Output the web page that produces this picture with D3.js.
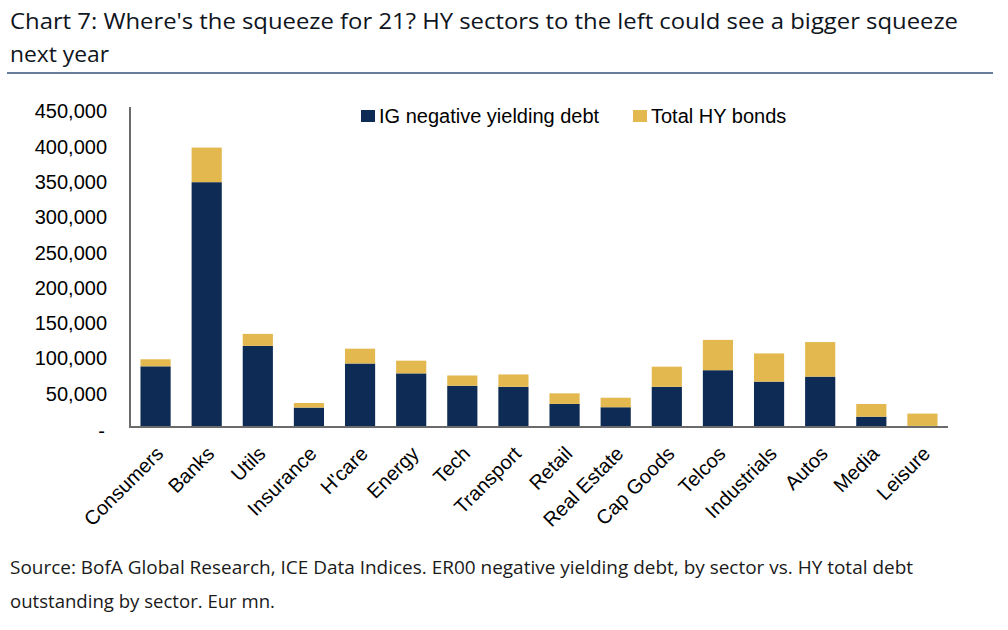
<!DOCTYPE html>
<html>
<head>
<meta charset="utf-8">
<script src="https://cdn.jsdelivr.net/npm/d3@7"></script>
<style>
  html, body { margin: 0; padding: 0; background: #fff; }
  svg { display: block; }
</style>
</head>
<body>
<svg id="chart" width="1008" height="630"></svg>
<script>
const titleLines = [
  "Chart 7: Where's the squeeze for 21? HY sectors to the left could see a bigger squeeze",
  "next year"
];
const sourceLines = [
  "Source: BofA Global Research, ICE Data Indices. ER00 negative yielding debt, by sector vs. HY total debt",
  "outstanding by sector. Eur mn."
];
const categories = ["Consumers", "Banks", "Utils", "Insurance", "H'care", "Energy", "Tech", "Transport",
  "Retail", "Real Estate", "Cap Goods", "Telcos", "Industrials", "Autos", "Media", "Leisure"];
const igNegative = [86000, 347000, 115000, 27500, 90000, 76000, 58500, 57000,
  32700, 28000, 57000, 80500, 64300, 71400, 14600, 1500];
const hyTotal = [10000, 49000, 17000, 6500, 21000, 18000, 14500, 17500,
  15000, 13500, 28500, 43000, 40000, 49000, 18000, 17500];
const seriesNames = ["IG negative yielding debt", "Total HY bonds"];
const seriesColors = ["#0d2b54", "#e3b94f"];
const yTicks = [0, 50000, 100000, 150000, 200000, 250000, 300000, 350000, 400000, 450000];

const svg = d3.select("#chart");

// Title
svg.selectAll("text.title").data(titleLines).enter().append("text")
  .attr("class", "title")
  .attr("x", 10).attr("y", (d, i) => 29 + i * 33)
  .attr("font-family", "'Open Sans', sans-serif")
  .attr("font-size", 22).attr("font-weight", 500)
  .attr("fill", "#0e1420")
  .attr("textLength", (d, i) => i === 0 ? 948 : 99)
  .attr("lengthAdjust", "spacingAndGlyphs")
  .text(d => d);

svg.append("line").attr("x1", 7).attr("x2", 993).attr("y1", 73).attr("y2", 73)
  .attr("stroke", "#687e9a").attr("stroke-width", 2);

// Scales
const x = d3.scaleBand().domain(categories).range([130, 948]).paddingInner(0.41).paddingOuter(0.205);
const y = d3.scaleLinear().domain([0, 450000]).range([427, 109.5]);

const data = categories.map((c, i) => ({ cat: c, ig: igNegative[i], hy: hyTotal[i] }));
const stack = d3.stack().keys(["ig", "hy"])(data);

const g = svg.append("g");
g.selectAll("g.series").data(stack).enter().append("g")
  .attr("fill", (d, i) => seriesColors[i])
  .selectAll("rect").data(d => d).enter().append("rect")
  .attr("x", d => x(d.data.cat))
  .attr("width", x.bandwidth())
  .attr("y", d => y(d[1]))
  .attr("height", d => y(d[0]) - y(d[1]));

// Y axis
const yAxis = d3.axisLeft(y).tickValues(yTicks).tickSize(0).tickPadding(0)
  .tickFormat(d => d === 0 ? "-" : d3.format(",")(d));
const yg = svg.append("g").attr("transform", "translate(107,0)").call(yAxis);
yg.select(".domain").remove();
yg.selectAll("text")
  .attr("font-family", "'Liberation Sans', Arial, sans-serif")
  .attr("font-size", 20).attr("fill", "#000")
  .attr("dy", "0.42em");
yg.selectAll(".tick").filter(d => d === 0).select("text").attr("x", -2).attr("dy", "0.5em");

svg.append("line").attr("x1", 130).attr("x2", 130).attr("y1", 107).attr("y2", 428)
  .attr("stroke", "#6b6b6b").attr("stroke-width", 2);

// X axis
const xAxis = d3.axisBottom(x).tickSize(0).tickPadding(0);
const xg = svg.append("g").attr("transform", "translate(0,427)").call(xAxis);
xg.select(".domain").remove();
xg.selectAll("text")
  .attr("font-family", "'Liberation Sans', Arial, sans-serif")
  .attr("font-size", 20).attr("fill", "#000")
  .attr("text-anchor", "end")
  .attr("x", 0).attr("y", 0).attr("dy", 0)
  .attr("transform", "translate(9,28) rotate(-45)");

svg.append("line").attr("x1", 129).attr("x2", 948).attr("y1", 427).attr("y2", 427)
  .attr("stroke", "#6b6b6b").attr("stroke-width", 2);

// Legend
const legendX = [361, 633];
const leg = svg.selectAll("g.legend").data(seriesNames).enter().append("g")
  .attr("transform", (d, i) => `translate(${legendX[i]},0)`);
leg.append("rect").attr("x", 0).attr("y", 110).attr("width", 14).attr("height", 12)
  .attr("fill", (d, i) => seriesColors[i]);
leg.append("text").attr("x", 18).attr("y", 122.5)
  .attr("font-family", "'Liberation Sans', Arial, sans-serif")
  .attr("font-size", 20).attr("fill", "#000")
  .text(d => d);

// Source
svg.selectAll("text.source").data(sourceLines).enter().append("text")
  .attr("class", "source")
  .attr("x", 10).attr("y", (d, i) => 574 + i * 34)
  .attr("font-family", "'Open Sans', sans-serif")
  .attr("font-size", 19).attr("fill", "#1a1a1a")
  .attr("textLength", (d, i) => i === 0 ? 903 : 265)
  .attr("lengthAdjust", "spacingAndGlyphs")
  .text(d => d);
</script>
</body>
</html>
